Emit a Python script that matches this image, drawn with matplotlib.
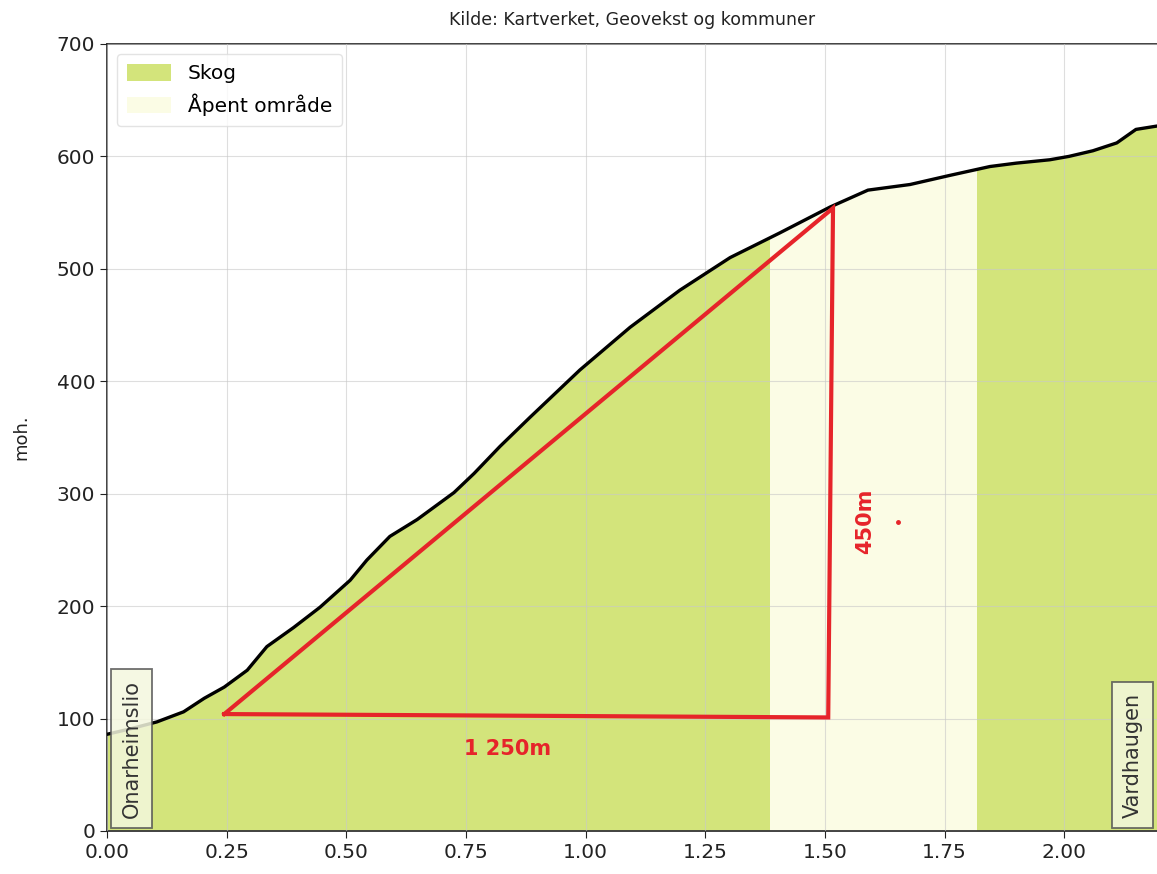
import numpy as np
import matplotlib
matplotlib.use("Agg")
import matplotlib.pyplot as plt
from matplotlib.patches import Patch

# ---- data ----
dist_km = [0.000, 0.050, 0.104, 0.160, 0.203, 0.245, 0.293, 0.334, 0.390, 0.445,
           0.508, 0.543, 0.591, 0.648, 0.725, 0.767, 0.821, 0.884, 0.988, 1.093,
           1.197, 1.302, 1.406, 1.511, 1.590, 1.678, 1.760, 1.845, 1.900, 1.970,
           2.010, 2.060, 2.110, 2.150, 2.194]
elev_m = [86, 91, 97, 106, 118, 128, 143, 164, 181, 199,
          223, 241, 262, 277, 301, 318, 342, 368, 410, 448,
          481, 510, 532, 555, 570, 575, 583, 591, 594, 597,
          600, 605, 612, 624, 627]

cover_start = [0.0, 1.386, 1.818]
cover_end = [1.386, 1.818, 2.194]
cover_type = ["Skog", "Åpent område", "Skog"]
cover_colors = {"Skog": "#d3e47b", "Åpent område": "#fbfce5"}

place_names = ["Onarheimslio", "Vardhaugen"]
place_x = [0.051, 2.143]

tri_x = [0.245, 1.517, 1.507, 0.245]
tri_y = [104, 554, 101, 104]
horiz_label = "1 250m"
vert_label = "450m"

title = "Kilde: Kartverket, Geovekst og kommuner"
ylabel = "moh."
xticks = [0.00, 0.25, 0.50, 0.75, 1.00, 1.25, 1.50, 1.75, 2.00]
yticks = [0, 100, 200, 300, 400, 500, 600, 700]

# ---- figure ----
fig = plt.figure(figsize=(11.57, 8.74), dpi=100)
ax = fig.add_axes([0.0925, 0.0492, 0.9075, 0.9005])
ax.set_xlim(0, 2.194)
ax.set_ylim(0, 700)

# area under profile as clip path
poly = ax.fill_between(dist_km, elev_m, 0, color="none", lw=0)
clip = poly.get_paths()[0]
for s, e, t in zip(cover_start, cover_end, cover_type):
    sp = ax.axvspan(s, e, color=cover_colors[t], lw=0, zorder=1)
    sp.set_clip_path(clip, ax.transData)

ax.plot(dist_km, elev_m, color="black", lw=2.4, zorder=3,
        solid_capstyle="round", solid_joinstyle="round")

ax.grid(True, color="#c8c8c8", lw=0.8, alpha=0.6, zorder=2)
ax.set_axisbelow(False)
for gl in ax.get_xgridlines() + ax.get_ygridlines():
    gl.set_zorder(2)

ax.set_xticks(xticks)
ax.set_xticklabels([f"{v:.2f}" for v in xticks])
ax.set_yticks(yticks)
ax.tick_params(labelsize=14.5, colors="#222222", length=5)
ax.set_ylabel(ylabel, fontsize=13, color="#222222", labelpad=19)
ax.set_title(title, fontsize=12.5, color="#222222", pad=14)
for side in ["left", "top", "bottom"]:
    ax.spines[side].set_color("#333333")
    ax.spines[side].set_linewidth(1.3)
ax.spines["right"].set_visible(False)

# place labels
for name, x in zip(place_names, place_x):
    ax.text(x, 12, name, rotation=90, ha="center", va="bottom", fontsize=15,
            color="#333333", zorder=5,
            bbox=dict(boxstyle="square,pad=0.5", facecolor="#f4f7de", alpha=0.85,
                      edgecolor="#555555", lw=1.3))

# legend
handles = [Patch(facecolor=cover_colors[k], edgecolor="none", label=k)
           for k in ["Skog", "Åpent område"]]
leg = ax.legend(handles=handles, loc="upper left", fontsize=14.5, frameon=True,
                borderpad=0.5, handlelength=2.2, handleheight=0.9,
                bbox_to_anchor=(0.0, 1.0))
leg.get_frame().set_edgecolor("#dddddd")
leg.set_zorder(6)

# red annotation
red = "#e6242a"
ax.plot(tri_x, tri_y, color=red, lw=3.0, zorder=4, solid_joinstyle="miter")
ax.text((tri_x[0] + tri_x[2]) / 2 - 0.04, tri_y[2] - 28, horiz_label, color=red,
        fontsize=15, fontweight="bold", ha="center", va="center", zorder=5)
ax.text(tri_x[1] + 0.067, (tri_y[1] + tri_y[2]) / 2 - 52, vert_label, color=red,
        fontsize=15, fontweight="bold", rotation=90, ha="center", va="center", zorder=5)
ax.plot([1.653], [275], marker="o", ms=2.5, color=red, zorder=5)

fig.savefig("out.png", dpi=100)
